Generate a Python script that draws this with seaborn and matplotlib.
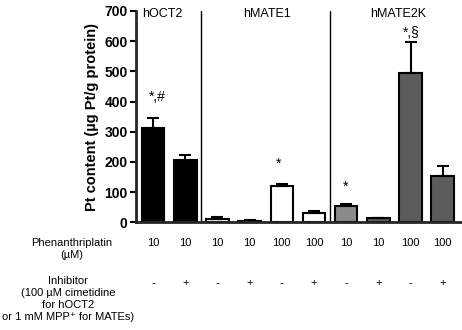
import numpy as np
import pandas as pd
import seaborn as sns
import matplotlib.pyplot as plt
from matplotlib.transforms import blended_transform_factory

# Dados
conditions = ['hOCT2 a', 'hOCT2 b', 'hMATE1 a', 'hMATE1 b', 'hMATE1 c', 'hMATE1 d',
              'hMATE2K a', 'hMATE2K b', 'hMATE2K c', 'hMATE2K d']
concentration = ['10', '10', '10', '10', '100', '100', '10', '10', '100', '100']
inhibitor = ['-', '+', '-', '+', '-', '+', '-', '+', '-', '+']
pt_content = [313, 208, 12, 5, 121, 32, 55, 13, 496, 152]
pt_error = [33, 16, 5, 2, 7, 5, 7, 3, 100, 36]
bar_colors = ['black', 'black', 'white', 'white', 'white', 'white',
              '#8a8a8a', '#5c5c5c', '#5c5c5c', '#5c5c5c']
groups = ['hOCT2', 'hMATE1', 'hMATE2K']
group_x = [0.3, 3.55, 7.6]
marks = ['*,#', '*', '*', '*,§']
mark_x = [0.12, 3.9, 5.98, 8.03]
mark_y = [415, 195, 117, 628]

sns.set_style("ticks")
plt.rcParams['font.family'] = ['Liberation Sans', 'DejaVu Sans']
plt.rcParams['text.color'] = 'black'
plt.rcParams['axes.labelcolor'] = 'black'
plt.rcParams['ytick.color'] = 'black'

df = pd.DataFrame({'cond': conditions, 'pt': pt_content})

fig = plt.figure(figsize=(4.62, 3.30), dpi=100)
ax = fig.add_axes([0.2944, 0.3260, 0.7056, 0.6410])

sns.barplot(data=df, x='cond', y='pt', hue='cond', order=conditions,
            palette=dict(zip(conditions, bar_colors)), dodge=False, legend=False,
            width=0.70, edgecolor='black', linewidth=1.5, errorbar=None, ax=ax)

# barras de erro apenas para cima
xs = np.arange(len(conditions))
ax.errorbar(xs, pt_content, yerr=[np.zeros(len(xs)), pt_error], fmt='none',
            ecolor='black', elinewidth=1.5, capsize=4, capthick=1.5, zorder=1)

ax.axvline(1.5, color='black', lw=1)
ax.axvline(5.5, color='black', lw=1)

for g, gx in zip(groups, group_x):
    ax.text(gx, 690, g, ha='center', va='center', fontsize=9)
for m, mx, my in zip(marks, mark_x, mark_y):
    ax.text(mx, my, m, ha='center', va='center', fontsize=10)

ax.set_xlim(-0.53, 9.6)
ax.set_ylim(0, 700)
ax.set_yticks(range(0, 701, 100))
ax.set_xticks([])
ax.set_xlabel('')
ax.set_ylabel('Pt content (µg Pt/g protein)', fontsize=10.5, fontweight='bold')
ax.yaxis.set_label_coords(-0.115, 0.5)
for lbl in ax.get_yticklabels():
    lbl.set_fontweight('bold')
ax.tick_params(axis='y', labelsize=10, length=4, width=1.5, pad=2, color='black')
sns.despine(ax=ax)
ax.spines['left'].set_linewidth(2)
ax.spines['bottom'].set_linewidth(2)

# tabela abaixo do eixo
trans = blended_transform_factory(ax.transData, fig.transFigure)
for i in range(len(conditions)):
    ax.text(i, 0.2645, concentration[i], transform=trans, ha='center', va='center', fontsize=8)
    ax.text(i, 0.142, inhibitor[i], transform=trans, ha='center', va='center', fontsize=8)

fig.text(0.156, 0.2455, 'Phenanthriplatin\n(µM)', ha='center', va='center',
         fontsize=8, linespacing=1.25)
fig.text(0.147, 0.093, 'Inhibitor\n(100 µM cimetidine\nfor hOCT2\nor 1 mM MPP⁺ for MATEs)',
         ha='center', va='center', fontsize=8, linespacing=1.25)

fig.savefig('out.png', dpi=100)
